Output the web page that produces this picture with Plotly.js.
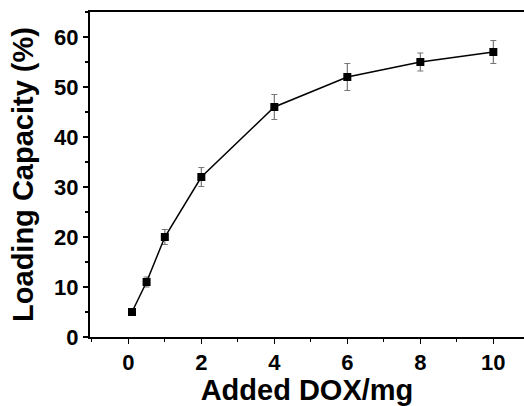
<!DOCTYPE html>
<html>
<head>
<meta charset="utf-8">
<script src="https://cdn.plot.ly/plotly-3.0.1.min.js"></script>
<style>html,body{margin:0;padding:0;background:#fff;}#chart{width:524px;height:406px;}</style>
</head>
<body>
<div id="chart"></div>
<script>
const addedDOX = [0.1, 0.5, 1, 2, 4, 6, 8, 10];
const loadingCapacity = [5, 11, 20, 32, 46, 52, 55, 57];
const errorValues = [0.5, 1, 1.5, 1.9, 2.5, 2.7, 1.8, 2.3];
const xTickVals = [0, 2, 4, 6, 8, 10];
const yTickVals = [0, 10, 20, 30, 40, 50, 60];

const font = 'Liberation Sans, Arial, sans-serif';
const trace = {
  x: addedDOX,
  y: loadingCapacity,
  type: 'scatter',
  mode: 'lines+markers',
  line: {color: '#000', width: 1.5},
  marker: {symbol: 'square', size: 8, color: '#000'},
  error_y: {type: 'data', array: errorValues, visible: true, color: '#777', thickness: 1.2, width: 3},
  showlegend: false
};
const layout = {
  width: 524, height: 406,
  margin: {l: 90, r: 0, t: 12, b: 69},
  paper_bgcolor: '#fff', plot_bgcolor: '#fff',
  font: {family: font, color: '#000'},
  xaxis: {
    range: [-1.05, 10.84],
    tickvals: xTickVals,
    ticks: 'outside', ticklen: 5, tickwidth: 1.5, tickcolor: '#000',
    minor: {dtick: 1, tick0: 0, ticks: 'outside', ticklen: 3, tickwidth: 1.2, tickcolor: '#000'},
    showline: true, linewidth: 2, linecolor: '#000', mirror: true,
    showgrid: false, zeroline: false,
    tickfont: {family: font, size: 22, weight: 'bold', color: '#000'},
    title: {text: '<b>Added DOX/mg</b>', font: {family: font, size: 29, color: '#000'}, standoff: 8},
    automargin: false
  },
  yaxis: {
    range: [0, 65],
    tickvals: yTickVals,
    ticks: 'outside', ticklen: 5, tickwidth: 1.5, tickcolor: '#000',
    minor: {dtick: 5, tick0: 0, ticks: 'outside', ticklen: 3, tickwidth: 1.2, tickcolor: '#000'},
    showline: true, linewidth: 2, linecolor: '#000', mirror: false,
    showgrid: false, zeroline: false,
    tickfont: {family: font, size: 22, weight: 'bold', color: '#000'},
    title: {text: '<b>Loading Capacity (%)</b>', font: {family: font, size: 29, color: '#000'}, standoff: 12},
    automargin: false
  }
};
Plotly.newPlot('chart', [trace], layout, {displayModeBar: false, staticPlot: true});
</script>
</body>
</html>
